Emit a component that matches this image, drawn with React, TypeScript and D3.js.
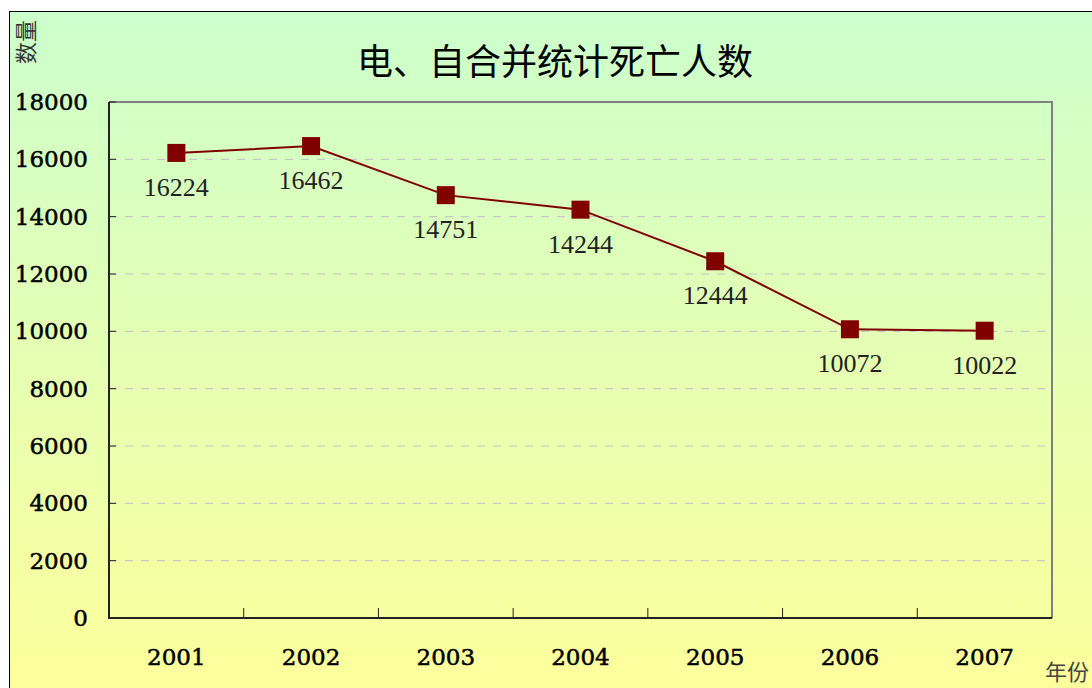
import React from 'react';
import * as d3 from 'd3';

const years = ['2001', '2002', '2003', '2004', '2005', '2006', '2007'];
const deaths = [16224, 16462, 14751, 14244, 12444, 10072, 10022];
const yTicks = [0, 2000, 4000, 6000, 8000, 10000, 12000, 14000, 16000, 18000];

const W = 1092;
const H = 688;
const plot = { left: 109, top: 102, right: 1052, bottom: 618 };

export default function App() {
  const x = d3.scaleBand().domain(years).range([plot.left, plot.right]);
  const y = d3.scaleLinear().domain([0, 18000]).range([plot.bottom, plot.top]);

  const line = d3.line<number>()
    .x((_, i) => x(years[i])! + x.bandwidth() / 2)
    .y(d => y(d));

  const serif = '"DejaVu Serif", serif';
  const labelFont = '"Liberation Serif", "Times New Roman", serif';
  const cjk = '"Noto Sans CJK SC", sans-serif';

  return (
    <svg width={W} height={H} style={{ position: 'absolute', left: 0, top: 0, display: 'block' }}>
      <defs>
        <linearGradient id="bg" x1="0" y1="0" x2="0" y2="1">
          <stop offset="0%" stopColor="#ccffcc" />
          <stop offset="100%" stopColor="#ffff99" />
        </linearGradient>
      </defs>
      <rect x={0} y={0} width={W} height={H} fill="#ffffff" />
      <rect x={9.5} y={11.5} width={W + 20} height={H + 20} fill="url(#bg)" stroke="#000" strokeWidth={1} />

      {/* title */}
      <text x={555} y={75} textAnchor="middle" fontFamily={cjk} fontSize={36} fill="#000">
        电、自合并统计死亡人数
      </text>
      <text transform="translate(34,42) rotate(-90)" textAnchor="middle" fontFamily={cjk} fontSize={22} fill="#333">
        数量
      </text>
      <text x={1067} y={680} textAnchor="middle" fontFamily={cjk} fontSize={22} fill="#444">
        年份
      </text>

      {/* grid */}
      {yTicks.slice(1, -1).map(t => (
        <line key={t} x1={plot.left} x2={plot.right} y1={y(t)} y2={y(t)}
          stroke="#c8c8c8" strokeWidth={1.2} strokeDasharray="8,8" />
      ))}

      {/* plot border */}
      <path d={`M${plot.left},${plot.top}H${plot.right}V${plot.bottom}`} fill="none" stroke="#808080" strokeWidth={2} />
      <path d={`M${plot.left},${plot.top}V${plot.bottom}H${plot.right}`} fill="none" stroke="#222" strokeWidth={2} />

      {/* y ticks */}
      {yTicks.map(t => (
        <g key={t}>
          <line x1={plot.left} x2={plot.left + 7} y1={y(t)} y2={y(t)} stroke="#222" strokeWidth={1} />
          <text x={88} y={y(t) + 8} textAnchor="end" fontFamily={serif} fontSize={23}
            fill="#000" stroke="#000" strokeWidth={0.5}>
            {t}
          </text>
        </g>
      ))}

      {/* x ticks */}
      {years.slice(1).map(yr => (
        <line key={yr} x1={x(yr)!} x2={x(yr)!} y1={plot.bottom} y2={plot.bottom - 10} stroke="#222" strokeWidth={1} />
      ))}
      {years.map(yr => (
        <text key={yr} x={x(yr)! + x.bandwidth() / 2} y={665} textAnchor="middle" fontFamily={serif} fontSize={23}
          fill="#000" stroke="#000" strokeWidth={0.5}>
          {yr}
        </text>
      ))}

      {/* series */}
      <path d={line(deaths)!} fill="none" stroke="#800000" strokeWidth={2} />
      {deaths.map((v, i) => {
        const cx = x(years[i])! + x.bandwidth() / 2;
        const cy = y(v);
        return (
          <g key={i}>
            <rect x={cx - 9} y={cy - 9} width={18} height={18} fill="#800000" />
            <text x={cx} y={cy + 43} textAnchor="middle" fontFamily={labelFont} fontSize={26} fill="#222">
              {v}
            </text>
          </g>
        );
      })}
    </svg>
  );
}
